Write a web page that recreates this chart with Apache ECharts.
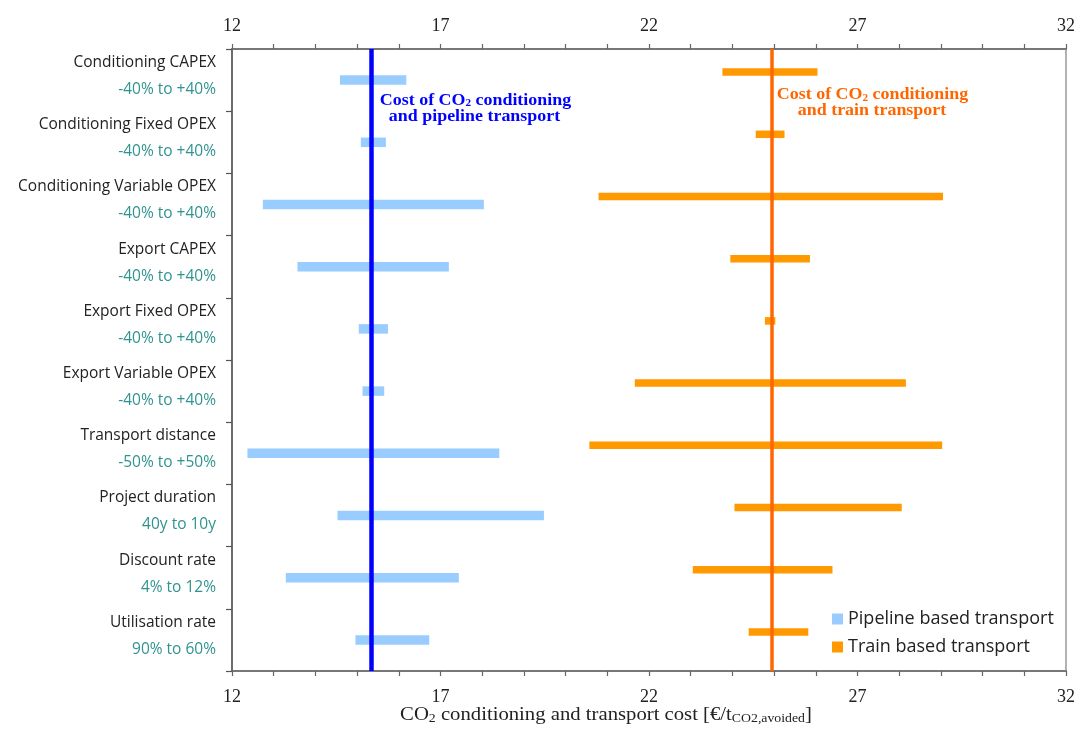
<!DOCTYPE html>
<html>
<head>
<meta charset="utf-8">
<script src="https://cdn.jsdelivr.net/npm/echarts@6/dist/echarts.min.js"></script>
<style>html,body{margin:0;padding:0;background:#fff}#c{width:1080px;height:731px}</style>
</head>
<body>
<div id="c"></div>
<script>
// ---- data ----
const categories = ['Conditioning CAPEX','Conditioning Fixed OPEX','Conditioning Variable OPEX','Export CAPEX','Export Fixed OPEX','Export Variable OPEX','Transport distance','Project duration','Discount rate','Utilisation rate'];
const ranges = ['-40% to +40%','-40% to +40%','-40% to +40%','-40% to +40%','-40% to +40%','-40% to +40%','-50% to +50%','40y to 10y','4% to 12%','90% to 60%'];
const pipelineLow  = [14.59, 15.09, 12.74, 13.57, 15.04, 15.13, 12.37, 14.53, 13.29, 14.96];
const pipelineHigh = [16.18, 15.69, 18.04, 17.20, 15.74, 15.65, 18.41, 19.48, 17.44, 16.73];
const trainLow     = [23.76, 24.56, 20.79, 23.95, 24.78, 21.66, 20.57, 24.05, 23.05, 24.39];
const trainHigh    = [26.04, 25.25, 29.05, 25.86, 25.03, 28.16, 29.03, 28.06, 26.40, 25.82];
const pipelineBase = 15.35;
const trainBase = 24.94;
const xMin = 12, xMax = 32, xStep = 5;

const chart = echarts.init(document.getElementById('c'));

function rangeItem(h, off) {
  return function (params, api) {
    const cat = api.value(0);
    const p1 = api.coord([api.value(1), cat]);
    const p2 = api.coord([api.value(2), cat]);
    return {
      type: 'rect',
      shape: { x: p1[0], y: p1[1] - h / 2 + off, width: p2[0] - p1[0], height: h },
      style: api.style()
    };
  };
}

const pipeData = categories.map((c, i) => [i, pipelineLow[i], pipelineHigh[i]]);
const trainData = categories.map((c, i) => [i, trainLow[i], trainHigh[i]]);

const serif = '"Liberation Serif", "Times New Roman", serif';
const sans = '"Open Sans", sans-serif';

function xAxisCfg(pos, margin) {
  return {
    type: 'value', min: xMin, max: xMax, interval: xStep, position: pos,
    axisLine: { show: true, lineStyle: { color: '#666', width: 1.5 } },
    axisTick: { show: true, length: 5, inside: false, lineStyle: { color: '#666', width: 1.2 } },
    minorTick: { show: true, splitNumber: 5, length: 5, lineStyle: { color: '#666', width: 1.2 } },
    splitLine: { show: false },
    axisLabel: { fontFamily: serif, fontSize: 18, color: '#222', margin: margin }
  };
}

function annotLine(x, y, text, color) {
  const style = {
    text: text, x: 0, y: 0, align: 'center', verticalAlign: 'middle'
  };
  style.rich = {
    t: { fontFamily: serif, fontWeight: 'bold', fontSize: 16, fill: color, lineHeight: 16 },
    s: { fontFamily: serif, fontWeight: 'bold', fontSize: 10, fill: color, lineHeight: 8, verticalAlign: 'bottom' }
  };
  return { type: 'text', x: x, y: y, scaleX: 1.12, z: 10, silent: true, style: style };
}

chart.setOption({
  animation: false,
  grid: { left: 232, right: 14, top: 49, bottom: 60, show: true, borderColor: '#999', borderWidth: 1.5, containLabel: false },
  xAxis: [ xAxisCfg('bottom', 17), xAxisCfg('top', 14) ],
  yAxis: {
    type: 'category', data: categories, inverse: true, boundaryGap: true,
    axisLine: { show: true, lineStyle: { color: '#555', width: 1.5 } },
    axisTick: { show: true, length: 6, inside: false, lineStyle: { color: '#555', width: 1.2 } },
    splitLine: { show: false },
    axisLabel: {
      margin: 16,
      padding: [0, 0, 8, 0],
      formatter: function (v, i) { return '{a|' + v + '}\n{b|' + ranges[i] + '}'; },
      rich: {
        a: { fontFamily: sans, fontSize: 15.5, color: '#222', lineHeight: 27, align: 'right' },
        b: { fontFamily: sans, fontSize: 15.5, color: '#2f9390', lineHeight: 27, align: 'right' }
      }
    }
  },
  legend: {
    orient: 'vertical', left: 827, top: 605, itemWidth: 11, itemHeight: 11, itemGap: 10,
    icon: 'rect',
    textStyle: { fontFamily: sans, fontSize: 18, color: '#222', padding: [0, 0, 0, 0] },
    data: ['Pipeline based transport', 'Train based transport']
  },
  series: [
    {
      name: 'Pipeline based transport', type: 'custom', xAxisIndex: 0,
      renderItem: rangeItem(9.5, 0), encode: { x: [1, 2], y: 0 },
      itemStyle: { color: '#99ccff' },
      data: pipeData, z: 3,
      markLine: {
        silent: true, symbol: 'none', label: { show: false },
        lineStyle: { color: '#0000ff', width: 4.5, type: 'solid' },
        data: [{ xAxis: pipelineBase }]
      }
    },
    {
      name: 'Train based transport', type: 'custom', xAxisIndex: 0,
      renderItem: rangeItem(7.5, -8), encode: { x: [1, 2], y: 0 },
      itemStyle: { color: '#ff9900' },
      data: trainData, z: 3,
      markLine: {
        silent: true, symbol: 'none', label: { show: false },
        lineStyle: { color: '#ff6600', width: 3.5, type: 'solid' },
        data: [{ xAxis: trainBase }]
      }
    }
  ],
  graphic: [
    annotLine(475.5, 100.5, '{t|Cost of CO}{s|2}{t| conditioning}', '#0000ff'),
    annotLine(474.5, 116.5, '{t|and pipeline transport}', '#0000ff'),
    annotLine(872.5, 95, '{t|Cost of CO}{s|2}{t| conditioning}', '#ff6600'),
    annotLine(872, 110.5, '{t|and train transport}', '#ff6600'),
    {
      type: 'text', x: 606, y: 715, scaleX: 1.15, z: 10, silent: true,
      style: {
        text: '{t|CO}{s|2}{t| conditioning and transport cost [€/t}{s|CO2,avoided}{t|]}',
        x: 0, y: 0, align: 'center', verticalAlign: 'middle',
        rich: {
          t: { fontFamily: serif, fontSize: 18, fill: '#222', lineHeight: 20 },
          s: { fontFamily: serif, fontSize: 12, fill: '#222', lineHeight: 10, verticalAlign: 'bottom' }
        }
      }
    }
  ]
});
</script>
</body>
</html>
